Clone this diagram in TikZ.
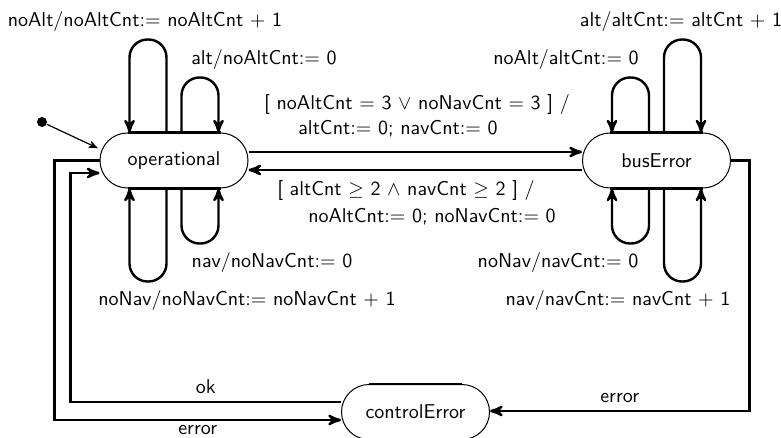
\documentclass[tikz,border=0pt]{standalone}
\usetikzlibrary{calc}
\usetikzlibrary{arrows}
\usetikzlibrary{positioning}

\tikzset{
 state/.style={draw, line width=0.5pt, rectangle, rounded corners=13.75pt, minimum width=74pt, minimum height=27.5pt, inner sep=0pt, font=\sffamily},
 flat/.style={line width=1.4pt},
 trans/.style={line width=1.2pt, ->, >=stealth'},
 lbl/.style={font=\sffamily, anchor=base, inner sep=0pt},
}

\begin{document}
\begin{tikzpicture}[x=0.5pt, y=-0.5pt]
\useasboundingbox (0,0) rectangle (781,438);
\node[state] (op) at (174,160.5) {operational};
\node[state] (bus) at (656.5,160.5) {busError};
\node[state] (ctrl) at (415.5,412) {controlError};
\foreach \n in {op, bus, ctrl} {
 \draw[flat] ($(\n.north)+(-46.5,0)$) -- ($(\n.north)+(46.5,0)$);
 \draw[flat] ($(\n.south)+(-46.5,0)$) -- ($(\n.south)+(46.5,0)$);
}
\foreach \n/\hl/\hr in {op/93/55, bus/55/93} {
 \foreach \s/\d in {north/-1, south/1} {
  \draw[trans, rounded corners=9pt] ($(\n.\s)+(-7.5,0)$) -- ++(0,\d*\hl) -| ($(\n.\s)+(-44.5,0)$);
  \draw[trans, rounded corners=9pt] ($(\n.\s)+(7.5,0)$) -- ++(0,\d*\hr) -| ($(\n.\s)+(44.5,0)$);
 }
}
\node[lbl] (opNoAlt) at (145,27) {noAlt/noAltCnt:$=$ noAltCnt $+$ 1};
\node[lbl] (opAlt) at (264,65) {alt/noAltCnt:$=$ 0};
\node[lbl] (opNav) at (272,268) {nav/noNavCnt:$=$ 0};
\node[lbl] (opNoNav) at (247,305) {noNav/noNavCnt:$=$ noNavCnt $+$ 1};
\node[lbl] (busAlt) at (681,27) {alt/altCnt:$=$ altCnt $+$ 1};
\node[lbl] (busNoAlt) at (566,65) {noAlt/altCnt:$=$ 0};
\node[lbl] (busNoNav) at (558,268) {noNav/navCnt:$=$ 0};
\node[lbl] (busNav) at (618,305) {nav/navCnt:$=$ navCnt $+$ 1};
\node[lbl] (toBusA) at (417,110) {[ noAltCnt $=$ 3 $\vee$ noNavCnt $=$ 3 ] /};
\node[lbl] (toBusB) at (398,135) {altCnt:$=$ 0; navCnt:$=$ 0};
\node[lbl] (toOpA) at (406,196) {[ altCnt $\geq$ 2 $\wedge$ navCnt $\geq$ 2 ] /};
\node[lbl] (toOpB) at (432,222) {noAltCnt:$=$ 0; noNavCnt:$=$ 0};
\draw[trans] ($(op.east)+(0,-8.5)$) -- ($(bus.west)+(0,-8.5)$);
\draw[trans] ($(bus.west)+(0,9.5)$) -- ($(op.east)+(0,9.5)$);
\draw[trans] (op.west) -- ++(-45,0) |- ($(ctrl.west)+(0,8)$) node[pos=0.75, below, inner sep=2pt, font=\sffamily] (errOp) {error};
\draw[trans] ($(ctrl.west)+(0,-10)$) -| node[pos=0.25, above, font=\sffamily] (ok) {ok} ($(op.west)+(-29,12.5)$) -- ($(op.west)+(0,12.5)$);
\draw[trans] (bus.east) -- ++(18.5,0) |- ($(ctrl.east)+(0,-1)$) node[pos=0.75, above, font=\sffamily] (errBus) {error};
\node[circle, fill, inner sep=0pt, minimum size=5pt] (init) at (42,122) {};
\draw[->, >=stealth', line width=0.6pt] (init) -- ($(op.west)+(-2,-12.5)$);
\end{tikzpicture}
\end{document}
